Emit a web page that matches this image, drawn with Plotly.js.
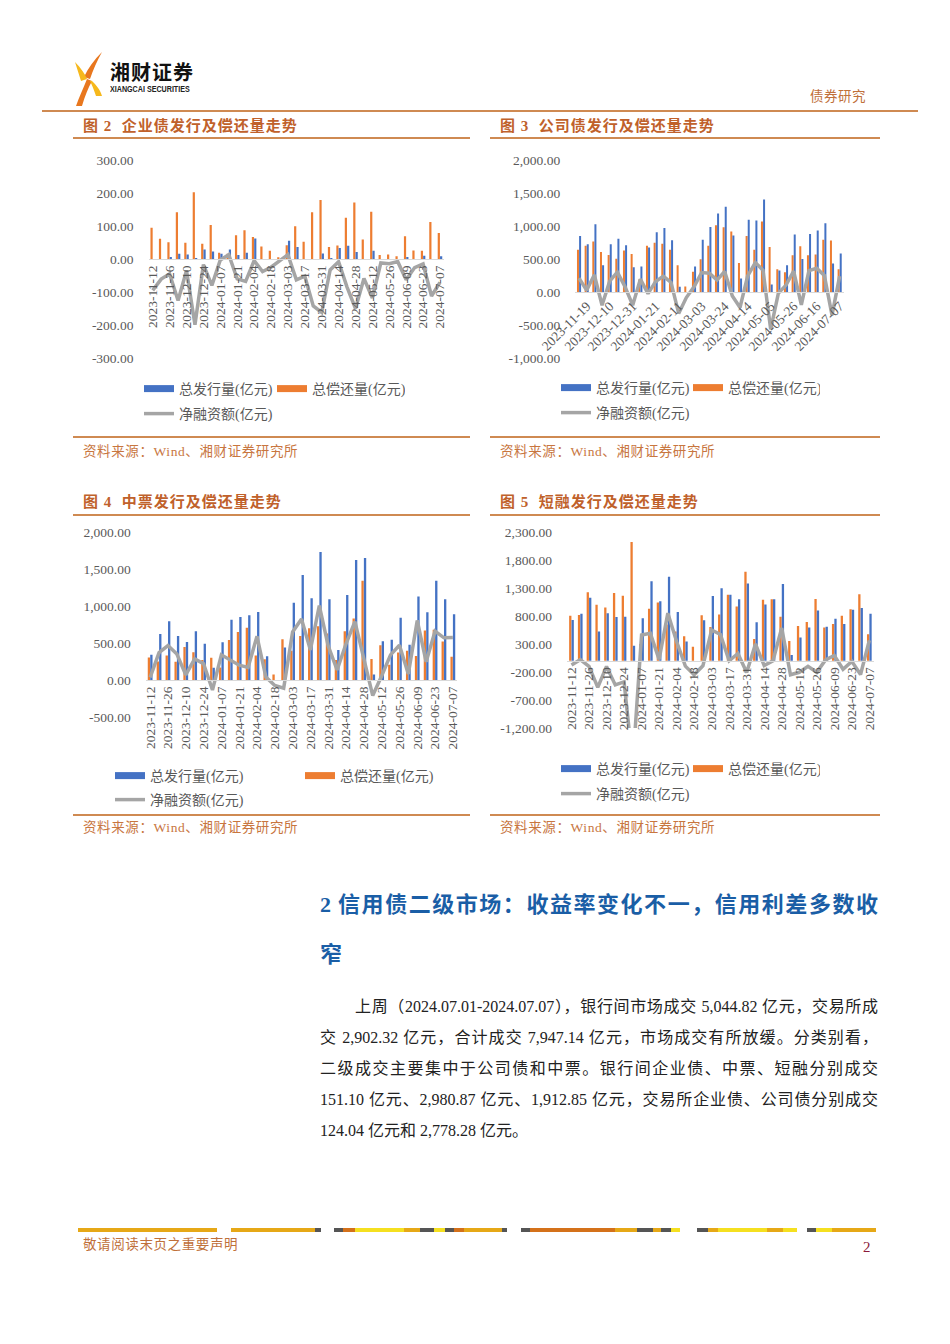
<!DOCTYPE html>
<html><head><meta charset="utf-8">
<script src="https://cdn.plot.ly/plotly-3.0.1.min.js"></script>
<style>
body{margin:0;background:#fff;}
#page{position:relative;width:950px;height:1344px;overflow:hidden;background:#fff;font-family:'Liberation Serif','Noto Sans CJK SC',serif;}
.abs{position:absolute;white-space:nowrap;}
.hl{position:absolute;height:2px;background:#cf8a52;}
.ttl{position:absolute;white-space:nowrap;font-weight:bold;color:#c0612b;font-size:15px;letter-spacing:1px;line-height:16px;height:16px;}
.src{position:absolute;white-space:nowrap;color:#c8763f;font-size:13.5px;line-height:14px;height:14px;letter-spacing:0.6px;}
#chart{position:absolute;left:0;top:0;width:950px;height:1344px;z-index:2;}
.para{position:absolute;font-size:16px;color:#222;text-align:justify;text-align-last:justify;line-height:20px;height:20px;overflow:visible;}
.seg{position:absolute;top:1228px;height:4px;}
</style>
</head><body>
<div id="page">
  <svg class="abs" style="left:73px;top:50px" width="32" height="58" viewBox="0 0 32 58">
    <path d="M29,2 C21,10 15,18 11,27 L17,29 C20,20 24,11 29,2 Z" fill="#e8771e"/>
    <path d="M2,12 C8,18 12,24 14,29 L8,31 C6,25 4,18 2,12 Z" fill="#f6b81c"/>
    <path d="M14,29 C10,39 6,47 3,56 L9,56 C12,46 15,38 19,31 Z" fill="#e8771e"/>
    <path d="M19,31 C23,35 27,39 29,46 L23,46 C21,40 19,35 17,31 Z" fill="#f6b81c"/>
  </svg>
  <div class="abs" style="left:110px;top:62px;font-size:20px;line-height:20px;height:20px;font-weight:bold;color:#111;font-family:'Noto Sans CJK SC',sans-serif;letter-spacing:1px">湘财证券</div>
  <div class="abs" style="left:110px;top:85px;font-size:8.5px;line-height:9px;height:9px;font-weight:bold;color:#222;font-family:'Liberation Sans Narrow','Liberation Sans',sans-serif;transform:scaleX(0.84);transform-origin:left">XIANGCAI SECURITIES</div>
  <div class="abs" style="left:810px;top:90px;font-size:13.5px;line-height:14px;color:#c0703a;letter-spacing:0.5px">债券研究</div>
  <div class="hl" style="left:42px;top:110px;width:876px"></div>

  <div class="ttl" style="left:83px;top:118px">图 2&nbsp;&nbsp;企业债发行及偿还量走势</div>
  <div class="ttl" style="left:500px;top:118px">图 3&nbsp;&nbsp;公司债发行及偿还量走势</div>
  <div class="hl" style="left:73px;top:137px;width:397px"></div>
  <div class="hl" style="left:490px;top:137px;width:390px"></div>
  <div class="hl" style="left:73px;top:436px;width:397px"></div>
  <div class="hl" style="left:490px;top:436px;width:390px"></div>
  <div class="src" style="left:83px;top:445px">资料来源：Wind、湘财证券研究所</div>
  <div class="src" style="left:500px;top:445px">资料来源：Wind、湘财证券研究所</div>

  <div class="ttl" style="left:83px;top:494px">图 4&nbsp;&nbsp;中票发行及偿还量走势</div>
  <div class="ttl" style="left:500px;top:494px">图 5&nbsp;&nbsp;短融发行及偿还量走势</div>
  <div class="hl" style="left:73px;top:514px;width:397px"></div>
  <div class="hl" style="left:490px;top:514px;width:390px"></div>
  <div class="hl" style="left:73px;top:814px;width:397px"></div>
  <div class="hl" style="left:490px;top:814px;width:390px"></div>
  <div class="src" style="left:83px;top:821px">资料来源：Wind、湘财证券研究所</div>
  <div class="src" style="left:500px;top:821px">资料来源：Wind、湘财证券研究所</div>

  <div class="para" style="left:320px;width:558px;top:892px;height:26px;line-height:26px;font-size:22px;font-weight:bold;color:#1a5ea6">2 信用债二级市场：收益率变化不一，信用利差多数收</div>
  <div class="abs" style="left:320px;top:942px;font-size:22px;line-height:26px;font-weight:bold;color:#1a5ea6">窄</div>

  <div class="para" style="left:355px;width:523px;top:997px">上周（2024.07.01-2024.07.07），银行间市场成交 5,044.82 亿元，交易所成</div>
  <div class="para" style="left:320px;width:558px;top:1028px">交 2,902.32 亿元，合计成交 7,947.14 亿元，市场成交有所放缓。分类别看，</div>
  <div class="para" style="left:320px;width:558px;top:1059px">二级成交主要集中于公司债和中票。银行间企业债、中票、短融分别成交</div>
  <div class="para" style="left:320px;width:558px;top:1090px">151.10 亿元、2,980.87 亿元、1,912.85 亿元，交易所企业债、公司债分别成交</div>
  <div class="abs" style="left:320px;top:1121px;font-size:16px;line-height:20px;color:#222">124.04 亿元和 2,778.28 亿元。</div>

  <div class="seg" style="left:78px;width:139px;background:#e6a817"></div>
  <div class="seg" style="left:231px;width:84px;background:#e6a817"></div>
  <div class="seg" style="left:315px;width:6px;background:#555"></div>
  <div class="seg" style="left:334px;width:9px;background:#555"></div>
  <div class="seg" style="left:343px;width:12px;background:#d4711a"></div>
  <div class="seg" style="left:355px;width:49px;background:#f5e020"></div>
  <div class="seg" style="left:404px;width:16px;background:#e6a817"></div>
  <div class="seg" style="left:420px;width:14px;background:#555"></div>
  <div class="seg" style="left:434px;width:11px;background:#f5e020"></div>
  <div class="seg" style="left:445px;width:9px;background:#555"></div>
  <div class="seg" style="left:454px;width:10px;background:#d4711a"></div>
  <div class="seg" style="left:464px;width:38px;background:#e6a817"></div>
  <div class="seg" style="left:502px;width:5px;background:#555"></div>
  <div class="seg" style="left:521px;width:9px;background:#555"></div>
  <div class="seg" style="left:530px;width:85px;background:#d4711a"></div>
  <div class="seg" style="left:615px;width:22px;background:#e6a817"></div>
  <div class="seg" style="left:637px;width:16px;background:#555"></div>
  <div class="seg" style="left:653px;width:8px;background:#e6a817"></div>
  <div class="seg" style="left:661px;width:10px;background:#555"></div>
  <div class="seg" style="left:671px;width:9px;background:#f5e020"></div>
  <div class="seg" style="left:697px;width:11px;background:#555"></div>
  <div class="seg" style="left:708px;width:10px;background:#e6a817"></div>
  <div class="seg" style="left:718px;width:49px;background:#f5e020"></div>
  <div class="seg" style="left:767px;width:16px;background:#e6a817"></div>
  <div class="seg" style="left:783px;width:14px;background:#f5e020"></div>
  <div class="seg" style="left:807px;width:9px;background:#555"></div>
  <div class="seg" style="left:816px;width:16px;background:#f5e020"></div>
  <div class="seg" style="left:832px;width:44px;background:#e6a817"></div>
  <div class="abs" style="left:83px;top:1238px;font-size:13.5px;line-height:14px;color:#c0703a;letter-spacing:0.6px">敬请阅读末页之重要声明</div>
  <div class="abs" style="left:863px;top:1239px;font-size:15px;line-height:16px;color:#8b1a3a">2</div>

  <div id="chart"></div>
</div>
<script>
// ---------------- data ----------------
const weeks = ["2023-11-12","2023-11-19","2023-11-26","2023-12-03","2023-12-10","2023-12-17","2023-12-24","2023-12-31",
 "2024-01-07","2024-01-14","2024-01-21","2024-01-28","2024-02-04","2024-02-11","2024-02-18","2024-02-25",
 "2024-03-03","2024-03-10","2024-03-17","2024-03-24","2024-03-31","2024-04-07","2024-04-14","2024-04-21",
 "2024-04-28","2024-05-05","2024-05-12","2024-05-19","2024-05-26","2024-06-02","2024-06-09","2024-06-16",
 "2024-06-23","2024-06-30","2024-07-07"];
const ticksEvery2 = ["2023-11-12","2023-11-26","2023-12-10","2023-12-24","2024-01-07","2024-01-21","2024-02-04","2024-02-18",
 "2024-03-03","2024-03-17","2024-03-31","2024-04-14","2024-04-28","2024-05-12","2024-05-26","2024-06-09","2024-06-23","2024-07-07"];
const ticksEvery3 = ["2023-11-19","2023-12-10","2023-12-31","2024-01-21","2024-02-11","2024-03-03","2024-03-24","2024-04-14",
 "2024-05-05","2024-05-26","2024-06-16","2024-07-07"];

const seriesNames = ["总发行量(亿元)","总偿还量(亿元)","净融资额(亿元)"];

// 图2 企业债
const entIssue = [0,0,6,16,14,3,29,23,16,29,12,19,62,0,0,0,55,36,0,0,17,3,33,40,21,0,25,0,0,0,6,0,10,0,8];
const entRepay = [95,61,51,142,49,202,46,103,19,16,72,87,67,38,25,5,42,99,52,142,179,36,41,125,171,59,143,12,14,8,69,26,25,112,79];
const entNet   = [-95,-61,-45,-126,-35,-199,-17,-80,-3,13,-60,-68,-5,-38,-25,-5,13,-63,-52,-142,-162,-33,-8,-85,-150,-59,-118,-12,-14,-8,-63,-26,-15,-112,-71];
const entYTicks = [-300,-200,-100,0,100,200,300];
const entYLabels = ["-300.00","-200.00","-100.00","0.00","100.00","200.00","300.00"];

// 图3 公司债
const corpIssue = [850,725,1025,405,725,805,710,375,385,675,905,970,785,80,0,385,790,985,1190,1290,855,205,1095,1085,1400,115,325,405,870,500,880,930,1040,430,585];
const corpRepay = [640,700,765,605,560,505,630,575,190,700,745,730,640,405,85,305,495,700,1010,980,915,440,850,640,1070,680,345,300,555,695,555,570,790,780,345];
const corpNet   = [210,25,260,-200,165,300,80,-200,195,-25,160,240,145,-325,-85,80,295,285,180,310,-60,-235,245,445,330,-565,-20,105,315,-195,325,360,250,-350,240];
const corpYTicks = [-1000,-500,0,500,1000,1500,2000];
const corpYLabels = ["-1,000.00","-500.00","0.00","500.00","1,000.00","1,500.00","2,000.00"];

// 图4 中票
const mtnIssue = [340,620,795,595,515,660,490,165,510,815,850,875,920,320,0,440,1045,1420,1105,1730,1090,405,1150,1620,1650,75,525,545,840,475,1130,915,1340,1090,890];
const mtnRepay = [305,250,330,245,445,375,270,300,170,540,650,705,330,280,75,550,395,595,700,725,630,270,660,830,1340,285,470,205,370,395,325,670,680,520,315];
const mtnNet   = [35,370,465,350,70,285,220,-135,340,275,200,170,590,40,-75,-110,650,825,405,1005,460,135,490,790,310,-210,55,340,470,80,805,245,660,570,575];
const mtnYTicks = [-500,0,500,1000,1500,2000];
const mtnYLabels = ["-500.00","0.00","500.00","1,000.00","1,500.00","2,000.00"];

// 图5 短融
const cpIssue = [730,840,1125,525,850,780,785,270,760,1420,1065,1500,870,345,0,725,1155,1295,1180,1100,1380,690,1005,1100,1370,105,415,595,900,610,750,655,910,945,840];
const cpRepay = [805,820,1225,1000,950,1210,1160,2120,300,930,1040,650,525,440,250,815,605,825,1180,970,1590,390,1090,1100,785,355,620,695,1105,595,655,805,920,1190,475];
const cpNet   = [-75,20,-100,-475,-100,-430,-375,-1850,460,490,25,850,345,-95,-250,-90,550,470,0,130,-210,300,-85,0,585,-250,-205,-100,-205,15,95,-150,-10,-245,365];
const cpYTicks = [-1200,-700,-200,300,800,1300,1800,2300];
const cpYLabels = ["-1,200.00","-700.00","-200.00","300.00","800.00","1,300.00","1,800.00","2,300.00"];

// ---------------- layout helpers ----------------
const W = 950, H = 1344;
const px = v => v / W, py = v => 1 - v / H;
const FONT = "'Liberation Serif','Noto Sans CJK SC',serif";
const BLUE = '#4472c4', ORANGE = '#ed7d31', GRAY = '#a5a5a5', TXT = '#595959';

const charts = [
  {issue:entIssue, repay:entRepay, net:entNet, yt:entYTicks, yl:entYLabels, ticks:ticksEvery2, angle:-90,
   x0:148.5, x1:444.2, yTop:160, yBot:358, legX:144, legY1:389, legY2:414, entry:88},
  {issue:corpIssue, repay:corpRepay, net:corpNet, yt:corpYTicks, yl:corpYLabels, ticks:ticksEvery3, angle:-45,
   x0:575.2, x1:843.5, yTop:160, yBot:358, legX:561, legY1:388, legY2:413, entry:87},
  {issue:mtnIssue, repay:mtnRepay, net:mtnNet, yt:mtnYTicks, yl:mtnYLabels, ticks:ticksEvery2, angle:-90,
   x0:145.7, x1:457.3, yTop:532, yBot:717, legX:115, legY1:776, legY2:800, entry:145},
  {issue:cpIssue, repay:cpRepay, net:cpNet, yt:cpYTicks, yl:cpYLabels, ticks:ticksEvery2, angle:-90,
   x0:567.1, x1:873.7, yTop:532, yBot:728, legX:561, legY1:769, legY2:794, entry:87}
];

const traces = [];
const layout = {
  width: W, height: H, margin: {l:0, r:0, t:0, b:0},
  paper_bgcolor: 'rgba(0,0,0,0)', plot_bgcolor: 'rgba(0,0,0,0)',
  barmode: 'group', bargap: 0.45, bargroupgap: 0.05,
  showlegend: true, hovermode: false,
  font: {family: FONT, color: TXT}
};

charts.forEach((c, i) => {
  const k = i + 1;
  const xs = k === 1 ? 'x' : 'x' + k, ys = k === 1 ? 'y' : 'y' + k;
  const xa = k === 1 ? 'xaxis' : 'xaxis' + k, ya = k === 1 ? 'yaxis' : 'yaxis' + k;
  const lgA = 'legend' + (2 * i + 1 === 1 ? '' : (2 * i + 1));
  const lgB = 'legend' + (2 * i + 2);
  const ymin = c.yt[0], ymax = c.yt[c.yt.length - 1];
  const zeroY = c.yTop + (ymax - 0) / (ymax - ymin) * (c.yBot - c.yTop);

  traces.push({type:'bar', x:weeks, y:c.repay, xaxis:xs, yaxis:ys, marker:{color:ORANGE}, name:seriesNames[1], showlegend:false, hoverinfo:'skip'});
  traces.push({type:'bar', x:weeks, y:c.issue, xaxis:xs, yaxis:ys, marker:{color:BLUE}, name:seriesNames[0], showlegend:false, hoverinfo:'skip'});
  traces.push({type:'scatter', mode:'lines', x:weeks, y:c.net, xaxis:xs, yaxis:ys, line:{color:GRAY, width:3.5}, name:seriesNames[2], legend:lgB, showlegend:true, hoverinfo:'skip'});
  // legend swatches for the bar series
  traces.push({type:'scatter', mode:'lines', x:[weeks[0]], y:[null], xaxis:xs, yaxis:ys, line:{color:BLUE, width:7}, name:seriesNames[0], legend:lgA, showlegend:true, hoverinfo:'skip'});
  traces.push({type:'scatter', mode:'lines', x:[weeks[0]], y:[null], xaxis:xs, yaxis:ys, line:{color:ORANGE, width:7}, name:seriesNames[1], legend:lgA, showlegend:true, hoverinfo:'skip'});

  layout[xa] = {
    domain:[px(c.x0), px(c.x1)], anchor:'free', position: py(zeroY),
    type:'category', categoryorder:'array', categoryarray: weeks, range:[-0.5, weeks.length - 0.5],
    tickmode:'array', tickvals:c.ticks, ticktext:c.ticks, tickangle:c.angle,
    tickfont:{family:FONT, size:13.5, color:TXT},
    showline:true, linecolor:'#d9d9d9', linewidth:1, showgrid:false, zeroline:false, ticks:'', fixedrange:true
  };
  layout[ya] = {
    domain:[py(c.yBot), py(c.yTop)], anchor:xs, range:[ymin, ymax],
    tickmode:'array', tickvals:c.yt, ticktext:c.yl,
    tickfont:{family:FONT, size:13.5, color:TXT},
    showline:false, showgrid:false, zeroline:false, ticks:'', ticklabelstandoff:14, fixedrange:true
  };
  const legBase = {orientation:'h', xanchor:'left', yanchor:'middle', bgcolor:'rgba(0,0,0,0)', borderwidth:0,
    font:{family:FONT, size:14, color:TXT}, itemclick:false, itemdoubleclick:false, traceorder:'normal'};
  layout[lgA] = Object.assign({}, legBase, {x:px(c.legX - 5), y:py(c.legY1), entrywidth:c.entry, entrywidthmode:'pixels'});
  layout[lgB] = Object.assign({}, legBase, {x:px(c.legX - 5), y:py(c.legY2)});
});

Plotly.newPlot('chart', traces, layout, {displayModeBar:false, staticPlot:true});
</script>
</body></html>
